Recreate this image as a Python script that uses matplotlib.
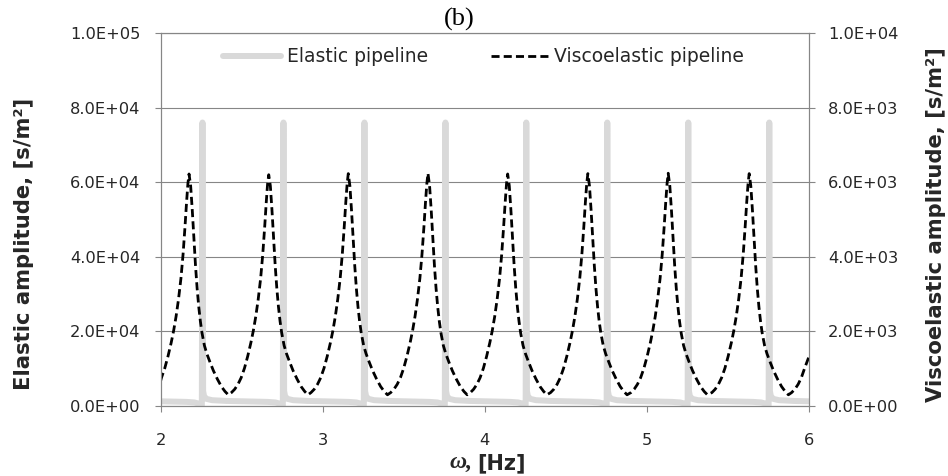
import matplotlib
matplotlib.use("Agg")
import matplotlib.pyplot as plt
from matplotlib.ticker import FuncFormatter, FixedLocator
from matplotlib.lines import Line2D

# Frequency response of the elastic pipeline (left axis)
elastic_freq = [
    2.000, 2.158, 2.208, 2.233, 2.246, 2.254,
    2.258, 2.262, 2.268, 2.283, 2.318, 2.408, 2.558, 2.658, 2.708, 2.733, 2.746, 2.754,
    2.758, 2.762, 2.768, 2.783, 2.818, 2.908, 3.058, 3.158, 3.208, 3.233, 3.246, 3.254,
    3.258, 3.262, 3.268, 3.283, 3.318, 3.408, 3.558, 3.658, 3.708, 3.733, 3.746, 3.754,
    3.758, 3.762, 3.768, 3.783, 3.818, 3.908, 4.058, 4.158, 4.207, 4.232, 4.245, 4.253,
    4.257, 4.261, 4.267, 4.282, 4.317, 4.407, 4.557, 4.657, 4.707, 4.732, 4.745, 4.753,
    4.757, 4.761, 4.767, 4.782, 4.817, 4.907, 5.057, 5.157, 5.207, 5.232, 5.245, 5.253,
    5.257, 5.261, 5.267, 5.282, 5.317, 5.407, 5.557, 5.657, 5.707, 5.732, 5.745, 5.753,
    5.757, 5.761, 5.767, 5.782, 5.817, 5.907, 6.000,
]
elastic_amp = [
    1250, 1100, 950, 650, 300, 0,
    76000, 4000, 2600, 1900, 1550, 1350, 1200, 1100, 950, 650, 300, 0,
    76000, 4000, 2600, 1900, 1550, 1350, 1200, 1100, 950, 650, 300, 0,
    76000, 4000, 2600, 1900, 1550, 1350, 1200, 1100, 950, 650, 300, 0,
    76000, 4000, 2600, 1900, 1550, 1350, 1200, 1100, 950, 650, 300, 0,
    76000, 4000, 2600, 1900, 1550, 1350, 1200, 1100, 950, 650, 300, 0,
    76000, 4000, 2600, 1900, 1550, 1350, 1200, 1100, 950, 650, 300, 0,
    76000, 4000, 2600, 1900, 1550, 1350, 1200, 1100, 950, 650, 300, 0,
    76000, 4000, 2600, 1900, 1550, 1350, 1250,
]

# Frequency response of the viscoelastic pipeline (right axis)
visco_freq = [
    2.000, 2.005, 2.025, 2.045, 2.065, 2.080, 2.095, 2.110, 2.125, 2.138, 2.150, 2.160, 2.168, 2.175,
    2.185, 2.195, 2.205, 2.215, 2.225, 2.235, 2.245, 2.255, 2.270, 2.285, 2.304, 2.325, 2.350, 2.375, 2.397, 2.417,
    2.437, 2.457, 2.477, 2.497, 2.517, 2.537, 2.557, 2.572, 2.587, 2.602, 2.617, 2.630, 2.642, 2.652, 2.660, 2.667,
    2.677, 2.687, 2.697, 2.707, 2.717, 2.727, 2.737, 2.747, 2.762, 2.777, 2.796, 2.817, 2.842, 2.867, 2.889, 2.909,
    2.928, 2.948, 2.968, 2.988, 3.008, 3.028, 3.048, 3.063, 3.078, 3.093, 3.108, 3.121, 3.133, 3.143, 3.151, 3.158,
    3.168, 3.178, 3.188, 3.198, 3.208, 3.218, 3.228, 3.238, 3.253, 3.268, 3.287, 3.308, 3.333, 3.358, 3.380, 3.400,
    3.420, 3.440, 3.460, 3.480, 3.500, 3.520, 3.540, 3.555, 3.570, 3.585, 3.600, 3.613, 3.625, 3.635, 3.643, 3.650,
    3.660, 3.670, 3.680, 3.690, 3.700, 3.710, 3.720, 3.730, 3.745, 3.760, 3.779, 3.800, 3.825, 3.850, 3.872, 3.892,
    3.912, 3.932, 3.952, 3.972, 3.992, 4.012, 4.032, 4.047, 4.062, 4.077, 4.092, 4.105, 4.117, 4.127, 4.135, 4.142,
    4.152, 4.162, 4.172, 4.182, 4.192, 4.202, 4.212, 4.222, 4.237, 4.252, 4.271, 4.292, 4.317, 4.342, 4.364, 4.384,
    4.407, 4.427, 4.447, 4.467, 4.487, 4.507, 4.527, 4.542, 4.557, 4.572, 4.587, 4.600, 4.612, 4.622, 4.630, 4.637,
    4.647, 4.657, 4.667, 4.677, 4.687, 4.697, 4.707, 4.717, 4.732, 4.747, 4.766, 4.787, 4.812, 4.837, 4.859, 4.879,
    4.903, 4.923, 4.943, 4.963, 4.983, 5.003, 5.023, 5.038, 5.053, 5.068, 5.083, 5.096, 5.108, 5.118, 5.126, 5.133,
    5.143, 5.153, 5.163, 5.173, 5.183, 5.193, 5.203, 5.213, 5.228, 5.243, 5.262, 5.283, 5.308, 5.333, 5.355, 5.375,
    5.403, 5.423, 5.443, 5.463, 5.483, 5.503, 5.523, 5.538, 5.553, 5.568, 5.583, 5.596, 5.608, 5.618, 5.626, 5.633,
    5.643, 5.653, 5.663, 5.673, 5.683, 5.693, 5.703, 5.713, 5.728, 5.743, 5.762, 5.783, 5.808, 5.833, 5.855, 5.875,
    5.895, 5.915, 5.935, 5.955, 5.975, 6.000,
]
visco_amp = [
    680, 760, 1010, 1330, 1700, 2020, 2400, 2860, 3420, 4060, 4800, 5480, 5960, 6220,
    5900, 5250, 4480, 3760, 3150, 2660, 2270, 1960, 1620, 1400, 1180, 950, 720, 520, 390, 300,
    360, 450, 580, 760, 1010, 1330, 1700, 2020, 2400, 2860, 3420, 4060, 4800, 5480, 5960, 6200,
    5900, 5250, 4480, 3760, 3150, 2660, 2270, 1960, 1620, 1400, 1180, 950, 720, 520, 390, 300,
    360, 450, 580, 760, 1010, 1330, 1700, 2020, 2400, 2860, 3420, 4060, 4800, 5480, 5960, 6230,
    5900, 5250, 4480, 3760, 3150, 2660, 2270, 1960, 1620, 1400, 1180, 950, 720, 520, 390, 300,
    360, 450, 580, 760, 1010, 1330, 1700, 2020, 2400, 2860, 3420, 4060, 4800, 5480, 5960, 6240,
    5900, 5250, 4480, 3760, 3150, 2660, 2270, 1960, 1620, 1400, 1180, 950, 720, 520, 390, 300,
    360, 450, 580, 760, 1010, 1330, 1700, 2020, 2400, 2860, 3420, 4060, 4800, 5480, 5960, 6220,
    5900, 5250, 4480, 3760, 3150, 2660, 2270, 1960, 1620, 1400, 1180, 950, 720, 520, 390, 300,
    360, 450, 580, 760, 1010, 1330, 1700, 2020, 2400, 2860, 3420, 4060, 4800, 5480, 5960, 6230,
    5900, 5250, 4480, 3760, 3150, 2660, 2270, 1960, 1620, 1400, 1180, 950, 720, 520, 390, 300,
    360, 450, 580, 760, 1010, 1330, 1700, 2020, 2400, 2860, 3420, 4060, 4800, 5480, 5960, 6240,
    5900, 5250, 4480, 3760, 3150, 2660, 2270, 1960, 1620, 1400, 1180, 950, 720, 520, 390, 300,
    360, 450, 580, 760, 1010, 1330, 1700, 2020, 2400, 2860, 3420, 4060, 4800, 5480, 5960, 6230,
    5900, 5250, 4480, 3760, 3150, 2660, 2270, 1960, 1620, 1400, 1180, 950, 720, 520, 390, 300,
    360, 450, 580, 760, 1010, 1300,
]

x_ticks = [2, 3, 4, 5, 6]
left_ticks = [0, 20000, 40000, 60000, 80000, 100000]
right_ticks = [0, 2000, 4000, 6000, 8000, 10000]
series_labels = ["Elastic pipeline", "Viscoelastic pipeline"]

GRID = "#868686"
TEXT = "#262626"
ELASTIC = "#d9d9d9"
SANS = "DejaVu Sans"

fig = plt.figure(figsize=(9.48, 4.76), dpi=100)
ax = fig.add_axes([0.1695, 0.1471, 0.6835, 0.7836])

ax.plot(elastic_freq, elastic_amp, color=ELASTIC, lw=4.3,
        solid_capstyle="round", solid_joinstyle="round")
ax.set_xlim(2, 6)
ax.set_ylim(0, 100000)
ax.xaxis.set_major_locator(FixedLocator(x_ticks))
ax.yaxis.set_major_locator(FixedLocator(left_ticks))
ax.yaxis.set_major_formatter(FuncFormatter(lambda v, p: f"{v:.1E}"))
ax.xaxis.set_major_formatter(FuncFormatter(lambda v, p: f"{v:g}"))
ax.grid(axis="y", color=GRID, lw=0.8)
ax.set_axisbelow(True)

ax2 = ax.twinx()
ax2.plot(visco_freq, visco_amp, color="black", lw=2.0,
         linestyle=(0, (2.9, 1.5)), dash_capstyle="butt",
         solid_joinstyle="round", dash_joinstyle="round")
ax2.set_ylim(0, 10000)
ax2.yaxis.set_major_locator(FixedLocator(right_ticks))
ax2.yaxis.set_major_formatter(FuncFormatter(lambda v, p: f"{v:.1E}"))

for a in (ax, ax2):
    for s in a.spines.values():
        s.set_color(GRID)
        s.set_linewidth(0.8)
    for lab in a.get_xticklabels() + a.get_yticklabels():
        lab.set_family(SANS)

ax.tick_params(axis="y", direction="out", length=4.3, width=0.8, color=GRID,
               pad=10.5, labelsize=11.7, labelcolor=TEXT)
ax.tick_params(axis="x", direction="out", length=4.3, width=0.8, color=GRID,
               pad=15, labelsize=11.7, labelcolor=TEXT)
ax2.tick_params(axis="y", direction="out", length=4.3, width=0.8, color=GRID,
                pad=9.5, labelsize=11.7, labelcolor=TEXT)

# Axis titles
fig.text(24 / 948, 1 - 244 / 476, "Elastic amplitude, [s/m²]", rotation=90,
         ha="center", va="center", family=SANS, weight="bold", size=15.2, color=TEXT)
fig.text(936 / 948, 1 - 225 / 476, "Viscoelastic amplitude, [s/m²]", rotation=90,
         ha="center", va="center", family=SANS, weight="bold", size=15.2, color=TEXT)
fig.text(472 / 948, 1 - 462 / 476, "ω,", ha="right", va="center",
         family="Liberation Serif", style="italic", weight="bold", size=17, color=TEXT)
fig.text(477 / 948, 1 - 463 / 476, "[Hz]", ha="left", va="center",
         family=SANS, weight="bold", size=15, color=TEXT)

fig.text(459 / 948, 1 - 19 / 476, "(b)", ha="center", va="center",
         family="Liberation Serif", size=19, color="black")

handles = [
    Line2D([], [], color=ELASTIC, lw=4.3, solid_capstyle="round"),
    Line2D([], [], color="black", lw=2.0, linestyle=(0, (2.9, 1.5))),
]
leg = ax2.legend(handles, series_labels, ncol=2, frameon=False,
                 loc="center left", bbox_to_anchor=(223 / 948, 1 - 57 / 476),
                 bbox_transform=fig.transFigure, borderpad=0, borderaxespad=0,
                 handlelength=3.1, handletextpad=0.3, columnspacing=3.35,
                 prop={"family": SANS, "size": 13.5})
for t in leg.get_texts():
    t.set_color(TEXT)

fig.savefig("out.png", dpi=100)
